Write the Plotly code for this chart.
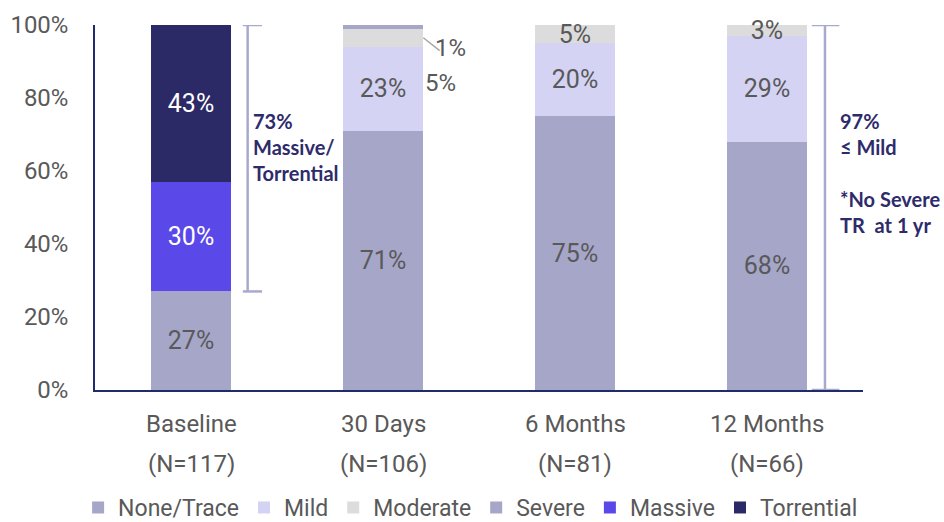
import plotly.graph_objects as go

# Tricuspid regurgitation grade distribution by visit
categories = ["Baseline", "30 Days", "6 Months", "12 Months"]
n_labels = ["(N=117)", "(N=106)", "(N=81)", "(N=66)"]

none_trace = [27, 71, 75, 68]
mild = [None, 23, 20, 29]
moderate = [None, 5, 5, 3]
severe = [None, 1, None, None]
massive = [30, None, None, None]
torrential = [43, None, None, None]

y_ticks = [0, 20, 40, 60, 80, 100]
y_tick_labels = ["0%", "20%", "40%", "60%", "80%", "100%"]

series = [
    ("None/Trace", none_trace, "#A6A6C9", "#595959"),
    ("Mild", mild, "#D4D3F3", "#595959"),
    ("Moderate", moderate, "#DCDCDC", "#595959"),
    ("Severe", severe, "#A6A6C9", "#595959"),
    ("Massive", massive, "#5B48E8", "#FFFFFF"),
    ("Torrential", torrential, "#2C2A66", "#FFFFFF"),
]

# Small 30-day segments are labelled outside the bar
outside = {("Moderate", "30 Days"), ("Severe", "30 Days")}

FONT = "Roboto"
FS = 24
GREY = "#595959"
NAVY = "#2E2B6B"
BRACKET = "#A9A9CD"

fig = go.Figure()
for name, vals, color, tcolor in series:
    texts = []
    for cat, v in zip(categories, vals):
        if v is None or (name, cat) in outside:
            texts.append("")
        else:
            texts.append(f"{v}%")
    fig.add_trace(go.Bar(
        name=name, x=categories, y=vals,
        marker=dict(color=color, line=dict(width=0)),
        text=texts, textposition="inside", insidetextanchor="middle",
        constraintext="none", cliponaxis=False,
        textfont=dict(family=FONT, size=25, color=tcolor),
        hoverinfo="skip",
    ))

# Outside labels for the 30-day Moderate and Severe segments
idx30 = categories.index("30 Days")
mod30 = moderate[idx30]
sev30 = severe[idx30]
base30 = none_trace[idx30] + mild[idx30]
fig.add_shape(type="line", xref="x", yref="y",
              x0=idx30 + 0.21, y0=base30 + mod30 / 2,
              x1=idx30 + 0.295, y1=base30 - 1,
              line=dict(color="#A6A6A6", width=1.5))
fig.add_annotation(x=idx30 + 0.35, y=base30 - 0.3, xref="x", yref="y",
                   text=f"{sev30}%", showarrow=False,
                   font=dict(family=FONT, size=FS, color=GREY))
fig.add_annotation(x=idx30 + 0.30, y=base30 - 10, xref="x", yref="y",
                   text=f"{mod30}%", showarrow=False,
                   font=dict(family=FONT, size=FS, color=GREY))

# Bracket beside Baseline: Massive + Torrential
b_lo = none_trace[0]
b_hi = none_trace[0] + massive[0] + torrential[0]
bx = 0.295
fig.add_shape(type="line", x0=bx, x1=bx, y0=b_lo, y1=b_hi,
              line=dict(color=BRACKET, width=2.5))
for yy in (b_lo, b_hi):
    fig.add_shape(type="line", x0=0.27, x1=0.37, y0=yy, y1=yy,
                  line=dict(color=BRACKET, width=2.5))
fig.add_annotation(x=0.315, y=66.5, xref="x", yref="y", xanchor="left",
                   align="left", showarrow=False,
                   text=f"<b>{massive[0] + torrential[0]}%<br>Massive/<br>Torrential</b>",
                   font=dict(family="Lato", size=20, color=NAVY))

# Bracket beside 12 Months: full bar
i12 = 3
bx12 = i12 + 0.302
fig.add_shape(type="line", x0=bx12, x1=bx12, y0=0, y1=100,
              line=dict(color=BRACKET, width=2.5))
for yy in (0, 100):
    fig.add_shape(type="line", x0=i12 + 0.233, x1=i12 + 0.377, y0=yy, y1=yy,
                  line=dict(color=BRACKET, width=2.5))
fig.add_annotation(x=i12 + 0.37, y=59.5, xref="x", yref="y", xanchor="left",
                   align="left", showarrow=False,
                   text=f"<b>{none_trace[i12] + mild[i12]}%<br>≤ Mild<br><br>*No Severe<br>TR  at 1 yr</b>",
                   font=dict(family="Lato", size=20, color=NAVY))

# Two-line category labels
for cat, nl in zip(categories, n_labels):
    fig.add_annotation(x=cat, y=0, xref="x", yref="paper", yanchor="middle",
                       yshift=-34, text=cat, showarrow=False,
                       font=dict(family=FONT, size=FS, color=GREY))
    fig.add_annotation(x=cat, y=0, xref="x", yref="paper", yanchor="middle",
                       yshift=-74, text=nl, showarrow=False,
                       font=dict(family=FONT, size=FS, color=GREY))

fig.update_layout(
    width=944, height=522,
    margin=dict(l=95, r=81, t=25, b=132, autoexpand=False),
    paper_bgcolor="white", plot_bgcolor="white",
    barmode="stack", bargap=0.583,
    showlegend=True,
    legend=dict(orientation="h", x=-0.022, y=-0.322, xanchor="left",
                yanchor="middle", traceorder="normal",
                font=dict(family=FONT, size=23, color=GREY),
                itemwidth=30, tracegroupgap=0),
    xaxis=dict(range=[-0.5, 3.5], showticklabels=False, showline=True,
               linecolor="#1F2C6B", linewidth=1.5, showgrid=False,
               zeroline=False, ticks=""),
    yaxis=dict(range=[0, 100], tickvals=y_ticks, ticktext=y_tick_labels,
               showline=True, linecolor="#1F2C6B", linewidth=1.5,
               showgrid=False, zeroline=False, ticks="",
               ticklabelstandoff=20,
               tickfont=dict(family=FONT, size=FS, color=GREY)),
)

fig.write_html("out.html")
